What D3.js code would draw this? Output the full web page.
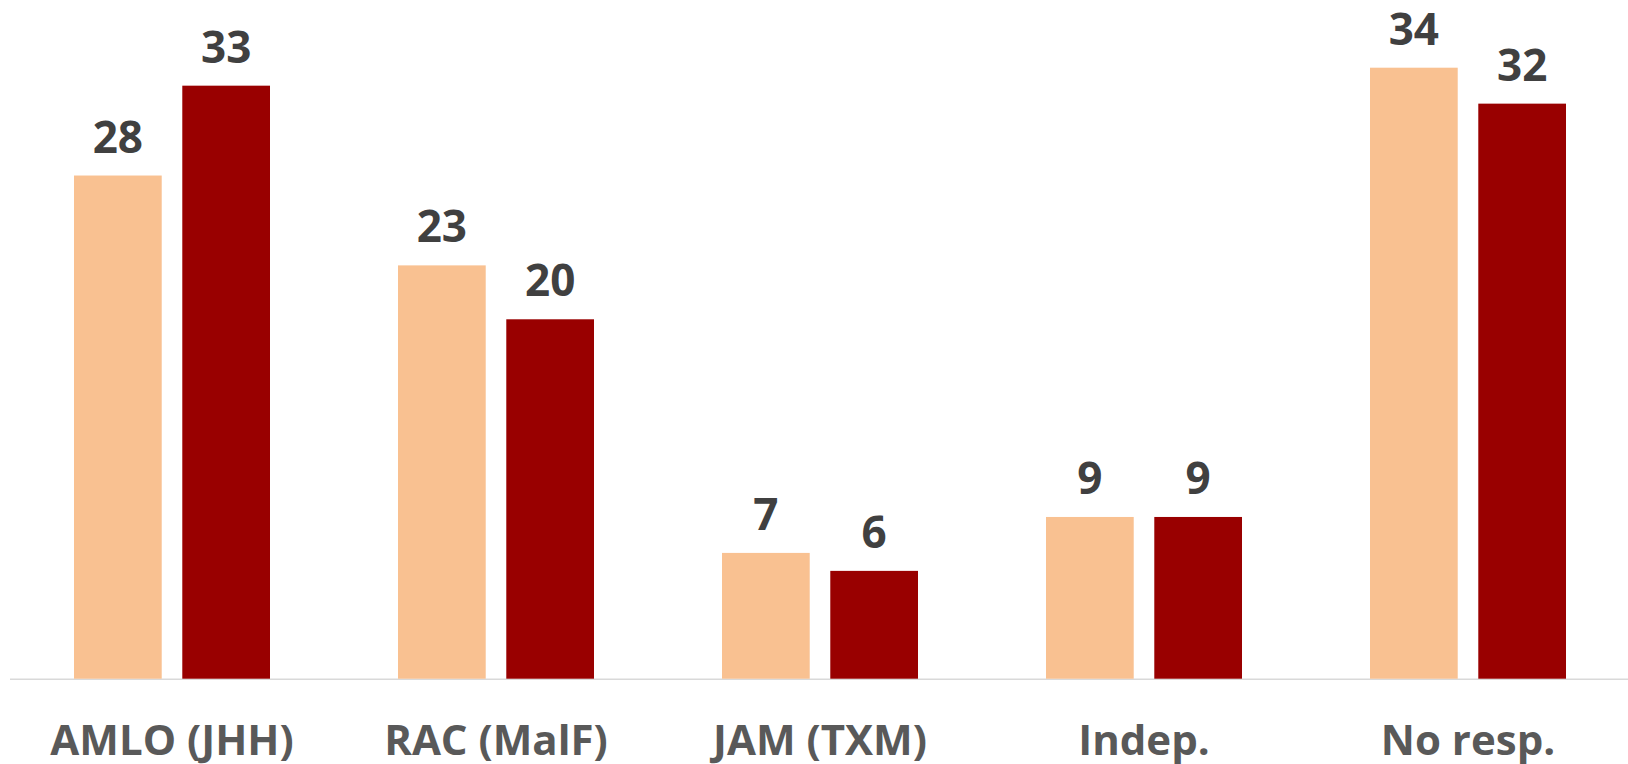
<!DOCTYPE html>
<html>
<head>
<meta charset="utf-8">
<script src="https://cdn.jsdelivr.net/npm/d3@7"></script>
<style>
  html, body { margin: 0; padding: 0; background: #ffffff; }
  svg { display: block; }
</style>
</head>
<body>
<svg id="chart" width="1628" height="764"></svg>
<script>
const categories = ["AMLO (JHH)", "RAC (MalF)", "JAM (TXM)", "Indep.", "No resp."];
const seriesNames = ["Serie 1", "Serie 2"];
const series1 = [28, 23, 7, 9, 34];
const series2 = [33, 20, 6, 9, 32];
const colors = ["#F9C191", "#990000"];

const W = 1628, H = 764;
const svg = d3.select("#chart");

const baseY = 678.7;
const x = d3.scaleBand().domain(categories).range([10, 1630]).paddingInner(0).paddingOuter(0);
const y = d3.scaleLinear().domain([0, 34]).range([baseY, 67.7]);

const sub = d3.scaleBand().domain(seriesNames).range([64, x.bandwidth() - 64]).paddingInner(0.19);

const data = categories.map((c, i) => ({ cat: c, vals: [series1[i], series2[i]] }));

// axis line
svg.append("line")
  .attr("x1", 10).attr("x2", W)
  .attr("y1", baseY + 0.5).attr("y2", baseY + 0.5)
  .attr("stroke", "#d9d9d9").attr("stroke-width", 1.5);

const g = svg.selectAll("g.grp").data(data).join("g")
  .attr("class", "grp")
  .attr("transform", d => `translate(${x(d.cat)},0)`);

g.selectAll("rect").data(d => d.vals.map((v, j) => ({ v, j }))).join("rect")
  .attr("x", d => sub(seriesNames[d.j]))
  .attr("width", sub.bandwidth())
  .attr("y", d => y(d.v))
  .attr("height", d => baseY - y(d.v))
  .attr("fill", d => colors[d.j]);

g.selectAll("text.val").data(d => d.vals.map((v, j) => ({ v, j }))).join("text")
  .attr("class", "val")
  .attr("x", d => sub(seriesNames[d.j]) + sub.bandwidth() / 2)
  .attr("y", d => y(d.v) - 23)
  .attr("text-anchor", "middle")
  .attr("font-family", "'Open Sans', sans-serif")
  .attr("font-weight", 700)
  .attr("font-size", 44)
  .attr("fill", "#404040")
  .text(d => d.v);

// category axis labels
const xAxis = d3.axisBottom(x).tickSize(0).tickPadding(0);
const ax = svg.append("g").attr("transform", `translate(0,0)`).call(xAxis);
ax.select(".domain").remove();
ax.selectAll("text")
  .attr("y", 755)
  .attr("dy", null)
  .attr("font-family", "'Open Sans', sans-serif")
  .attr("font-weight", 700)
  .attr("font-size", 42)
  .attr("fill", "#595959");
</script>
</body>
</html>
